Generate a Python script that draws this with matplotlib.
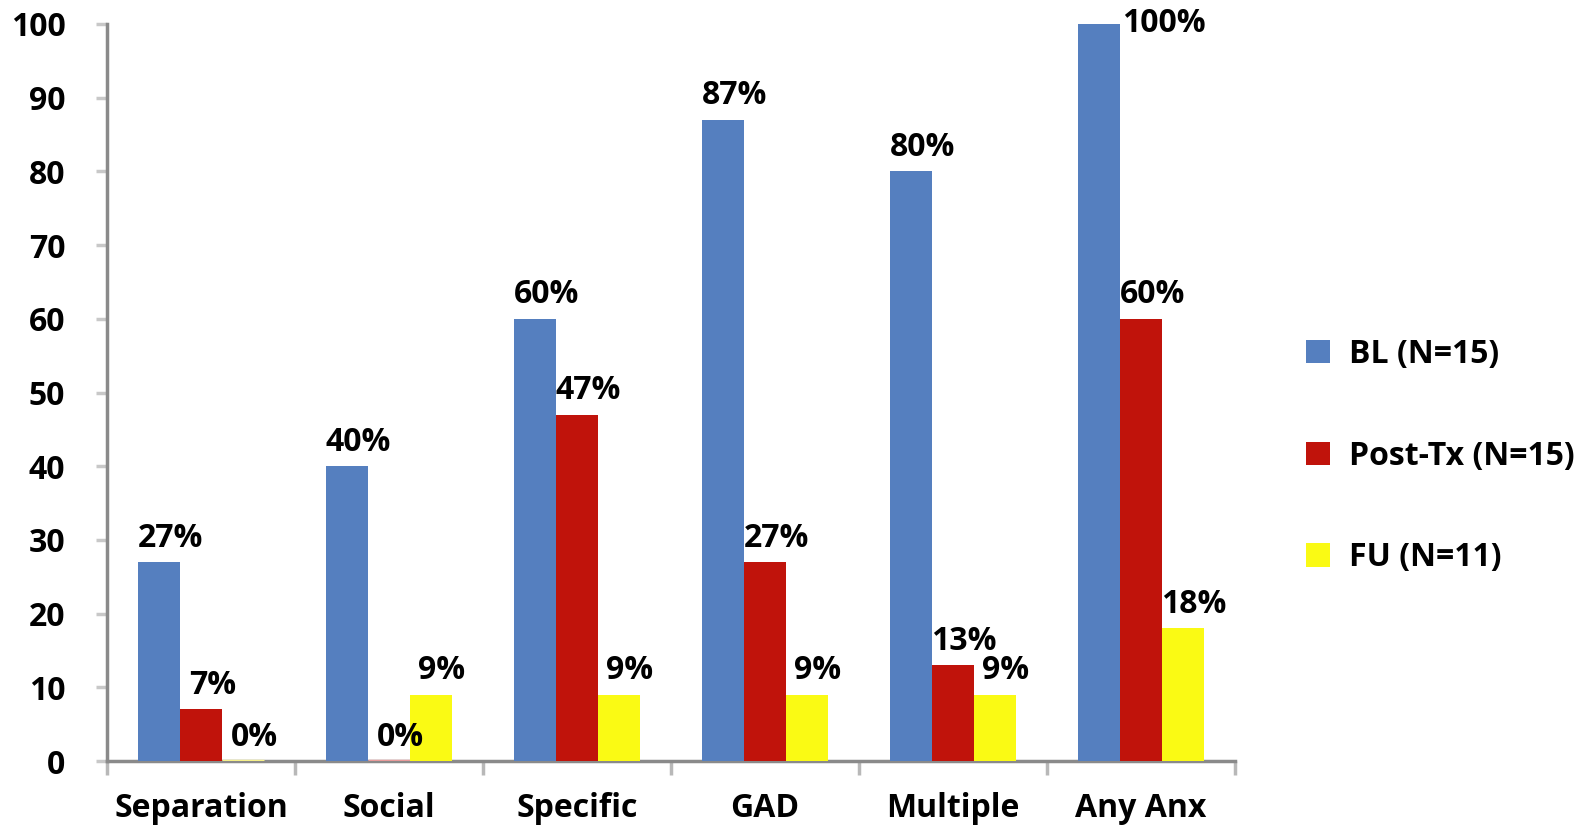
import numpy as np
import matplotlib
matplotlib.use("Agg")
import matplotlib.pyplot as plt
from matplotlib.patches import Patch

categories = ["Separation", "Social", "Specific", "GAD", "Multiple", "Any Anx"]
bl = [27, 40, 60, 87, 80, 100]
post_tx = [7, 0, 47, 27, 13, 60]
fu = [0, 9, 9, 9, 9, 18]
series_names = ["BL (N=15)", "Post-Tx (N=15)", "FU (N=11)"]
yticks = list(range(0, 101, 10))

colors = ["#557fbf", "#c0130b", "#fafa14"]
zero_edge = ["#a9bde0", "#e89a9a", "#f6f08a"]

plt.rcParams["font.family"] = ["Open Sans", "DejaVu Sans"]
plt.rcParams["font.weight"] = "bold"
FS = 23

fig = plt.figure(figsize=(15.77, 8.32), dpi=100)
ax = fig.add_axes([107 / 1577, 1 - 761 / 832, (1235 - 107) / 1577, (761 - 24) / 832])

x = np.arange(len(categories))
w = 0.222
for k, (vals, col) in enumerate(zip([bl, post_tx, fu], colors)):
    pos = x + (k - 1) * w
    for xi, v in zip(pos, vals):
        if v == 0:
            ax.bar(xi, 0, w, bottom=0, color=col,
                   edgecolor=zero_edge[k], linewidth=2.5, zorder=3)
        else:
            ax.bar(xi, v, w, color=col, zorder=3)
        # value label
        if v >= 100:
            ax.text(xi + w * 0.55, v, f"{v}%", ha="left", va="center",
                    fontsize=FS, fontweight="bold", zorder=4)
        else:
            ax.text(xi + 0.06, v + 1.0, f"{v}%", ha="center", va="bottom",
                    fontsize=FS, fontweight="bold", zorder=4)

ax.set_xlim(-0.5, len(categories) - 0.5)
ax.set_ylim(0, 100)
ax.set_yticks(yticks)
ax.set_yticklabels([str(t) for t in yticks], fontsize=FS, fontweight="bold")
ax.set_xticks(x)
ax.set_xticklabels(categories, fontsize=FS, fontweight="bold")
ax.tick_params(axis="x", length=0, pad=22)
ax.set_xticks(np.arange(-0.5, len(categories)), minor=True)
ax.tick_params(axis="x", which="minor", length=10, width=2.5, color="#b8b8b8")
ax.tick_params(axis="y", length=8, width=2.5, color="#c8c8c8", pad=22)

for s in ["top", "right"]:
    ax.spines[s].set_visible(False)
for s in ["left", "bottom"]:
    ax.spines[s].set_color("#8a8a8a")
    ax.spines[s].set_linewidth(2.5)

handles = [Patch(facecolor=c, label=n) for c, n in zip(colors, series_names)]
fig.legend(handles=handles, loc="center left", bbox_to_anchor=(1277 / 1577, 1 - 456 / 832),
           frameon=False, fontsize=FS, labelspacing=2.15, handlelength=0.75,
           handleheight=0.75, handletextpad=0.6)

fig.savefig("out.png", dpi=100)
